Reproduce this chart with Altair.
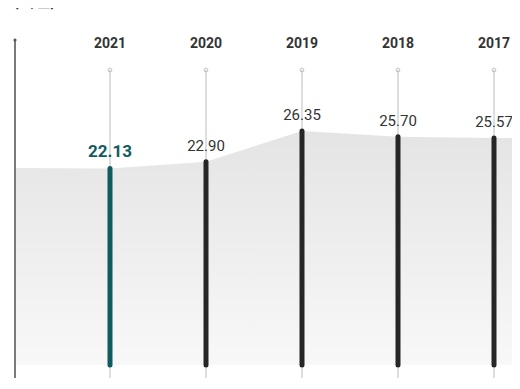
import altair as alt
import pandas as pd

# ---- data ----
years = ["2021", "2020", "2019", "2018", "2017"]
values = [22.13, 22.90, 26.35, 25.70, 25.57]
labels = ["22.13", "22.90", "26.35", "25.70", "25.57"]
highlight_year = "2021"
unit_label = "(억원)"
# background area continues a little beyond the first/last column
edge_left_value = 22.18
edge_right_value = 25.55

# ---- layout constants ----
W, H = 504, 370
X_DOMAIN = [-0.0625, 5.1875]
Y_DOMAIN = [-1.464, 40.2]
TEAL = "#0f5b5f"
DARK = "#262626"
FONT = "Roboto"

df = pd.DataFrame({
    "idx": list(range(1, len(years) + 1)),
    "year": years,
    "value": values,
    "label": labels,
})
area_df = pd.DataFrame({
    "idx": [0] + df["idx"].tolist() + [X_DOMAIN[1]],
    "value": [edge_left_value] + values + [edge_right_value],
})

x_enc = alt.X("idx:Q", scale=alt.Scale(domain=X_DOMAIN, nice=False, zero=False), axis=None)
y_scale = alt.Scale(domain=Y_DOMAIN, nice=False, zero=False)

area = alt.Chart(area_df).mark_area(
    color=alt.Gradient(
        gradient="linear",
        stops=[alt.GradientStop(color="#e4e4e4", offset=0),
               alt.GradientStop(color="#f8f8f8", offset=1)],
        x1=1, x2=1, y1=0, y2=1,
    ),
    interpolate="linear",
).encode(
    x=x_enc,
    y=alt.Y("value:Q", scale=y_scale, axis=None),
    y2=alt.value(H),
)

thin = alt.Chart(df).mark_rule(color="#bdbdbd", strokeWidth=1).encode(
    x=x_enc, y=alt.value(62), y2=alt.value(H)
)

circles = alt.Chart(df).mark_point(
    shape="circle", size=14, filled=False, color="#a8a8a8", strokeWidth=1
).encode(x=x_enc, y=alt.value(62))

bars = alt.Chart(df).mark_rule(strokeWidth=5, strokeCap="round").encode(
    x=x_enc,
    y=alt.Y("value:Q", scale=y_scale, axis=None),
    y2=alt.datum(0),
    color=alt.condition(alt.datum.year == highlight_year, alt.value(TEAL), alt.value(DARK)),
)

lab_hi = alt.Chart(df).transform_filter(alt.datum.year == highlight_year).mark_text(
    font=FONT, fontSize=17, fontWeight="bold", color=TEAL, baseline="alphabetic", dy=-11
).encode(x=x_enc, y=alt.Y("value:Q", scale=y_scale, axis=None), text="label:N")

lab_other = alt.Chart(df).transform_filter(alt.datum.year != highlight_year).mark_text(
    font=FONT, fontSize=15, color="#333333", baseline="alphabetic", dy=-11
).encode(x=x_enc, y=alt.Y("value:Q", scale=y_scale, axis=None), text="label:N")

year_text = alt.Chart(df).mark_text(
    font=FONT, fontSize=14, fontWeight="bold", color="#333333", baseline="middle"
).encode(x=x_enc, y=alt.value(36), text="year:N")

axis_line = alt.Chart(df.head(1)).mark_rule(color="#7a7a7a", strokeWidth=2).encode(
    x=alt.value(7), y=alt.value(32), y2=alt.value(H)
)
axis_dot = alt.Chart(df.head(1)).mark_point(
    shape="circle", size=10, filled=True, color="#555555", opacity=1
).encode(x=alt.value(7), y=alt.value(32))

unit = alt.Chart(pd.DataFrame({"t": [unit_label]})).mark_text(
    font=FONT, fontSize=16, fontWeight="bold", color="#333333", align="left", baseline="bottom"
).encode(x=alt.value(5), y=alt.value(1), text="t:N")

chart = alt.layer(
    area, thin, circles, bars, lab_hi, lab_other, year_text, axis_line, axis_dot, unit
).properties(
    width=W, height=H, padding=0, autosize=alt.AutoSizeParams(type="none"),
    background="white",
).configure_view(stroke=None)

chart.save("out.html", embed_options={"renderer": "svg", "actions": False})
